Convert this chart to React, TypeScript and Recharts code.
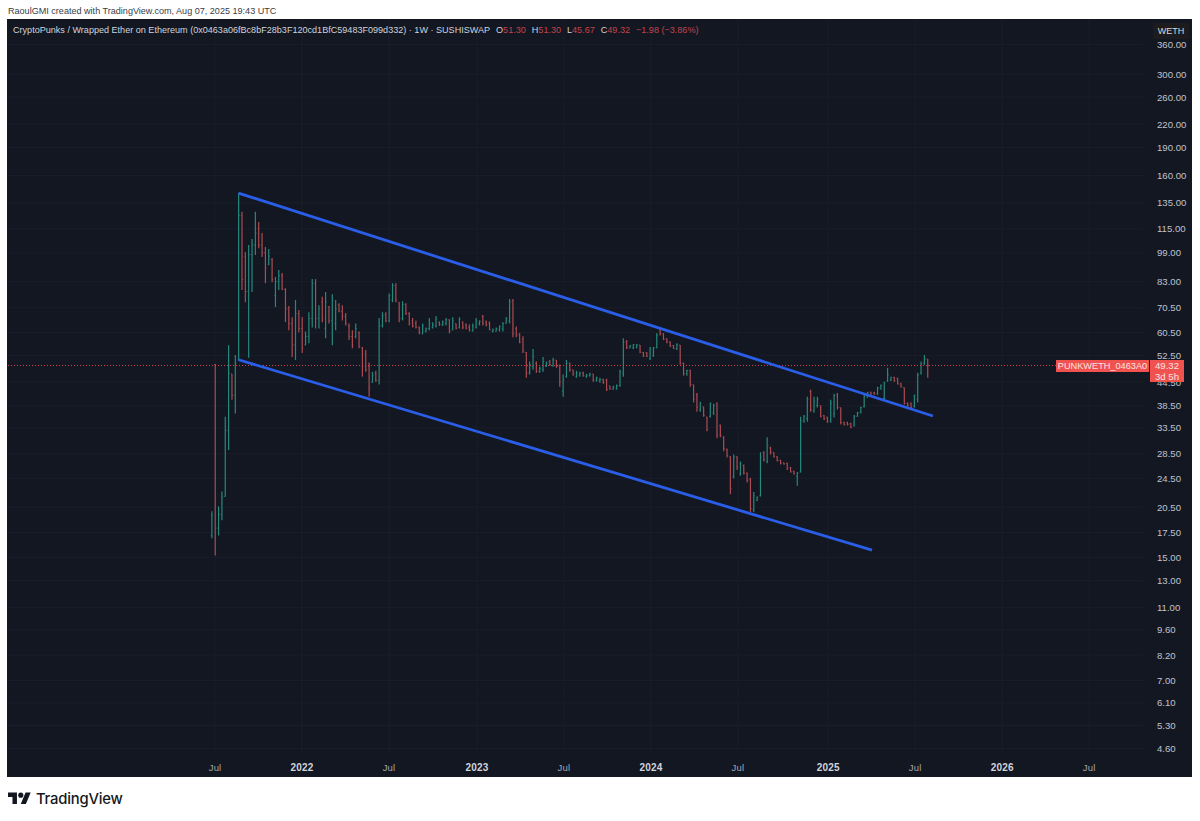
import { Bar, CartesianGrid, ComposedChart, ReferenceLine, XAxis, YAxis } from 'recharts'

const highs = [
  20, 49.8, 20.6, 22.6, 35.9, 55.9, 46.8, 52.6, 143.5, 127.7, 99.6, 104, 107.9, 127.7, 119.9, 112, 102.7, 101.5, 95.9, 85.3,
  89.1, 87.4, 79.6, 71.3, 66.5, 74, 69.5, 66.5, 60.9, 68.6, 84.2, 84.2, 71.6, 75.5, 77.7, 71.3, 76.7, 74, 72.5, 71.6,
  68.2, 64, 61.3, 64, 60.9, 55.3, 54.3, 50.2, 47.4, 47.7, 66.2, 68.6, 68.6, 77, 82.1, 82.1, 73, 73.4, 72.5, 68.6,
  66.2, 65.2, 62.8, 64, 62.4, 66.2, 64.5, 67, 64.8, 65.2, 66.2, 65.6, 66.5, 64, 66.5, 64.8, 64, 63.6, 64, 66.2,
  65.2, 67.4, 65.2, 64.8, 62, 62.4, 63.2, 64.5, 66.5, 74.4, 74.4, 62.8, 60.2, 59.1, 53.6, 50.5, 54.6, 50.5, 48.9, 52,
  50.5, 51, 51.7, 51, 49.5, 46.6, 51, 50.2, 48, 47.7, 47.4, 47.4, 46.8, 47.1, 46.8, 46, 45.7, 45.4, 45.4, 43.5,
  43.5, 43.8, 48, 58.4, 57.7, 56, 56.3, 56.3, 56, 53.6, 53.6, 55.3, 55.3, 60.2, 62, 60.2, 58.4, 57.3, 56, 56.6,
  56, 50.2, 48, 48, 43.8, 41.6, 39.4, 38.2, 35.9, 39.2, 38.9, 39.2, 34.2, 31.8, 29.5, 28.1, 28.4, 28.1, 27.2, 26.7,
  25.4, 24.6, 22.5, 21.9, 28.8, 29, 31.6, 29.8, 28.8, 28.1, 27.5, 27, 27, 26.3, 25.7, 25.5, 35.9, 36.3, 40.6, 42.4,
  40.6, 40.6, 38.5, 36.3, 35.9, 39.9, 41.4, 41.6, 38, 34.8, 34.8, 34.6, 36.3, 37, 38.2, 41.1, 41.9, 41.9, 41.9, 43.2,
  43.8, 44.6, 48.6, 46, 46, 45.7, 44.3, 43, 39.2, 39.2, 41.1, 47.1, 50.5, 52.6, 51.3,
]

const lows = [
  16.9, 15.2, 17.2, 18.9, 21.9, 29.2, 39.9, 36.6, 51, 78.7, 73, 51.7, 77.7, 97.7, 102, 96.5, 82.1, 91.9, 82.6, 70.8,
  78.7, 78.7, 64.5, 61.3, 52, 51, 60.5, 53.3, 55.9, 56.6, 62.4, 62, 62, 64.5, 58.4, 64, 55.9, 61.3, 68.6, 65.2,
  63.2, 57.7, 54.9, 58.4, 54.9, 46, 47.4, 40.6, 44.3, 44.6, 43.8, 62.4, 64.5, 64.5, 73, 73, 64.5, 65.2, 67.4, 63.2,
  62.4, 62, 59.8, 59.8, 60.5, 61.3, 62, 62.4, 63, 63, 63.2, 60.2, 61.3, 61.7, 62, 61.7, 61.7, 60.9, 60.9, 62,
  63.2, 63.2, 62.8, 61.3, 60.5, 60.9, 60.9, 60.9, 64, 64, 58.7, 58.7, 56.6, 53.3, 45.7, 46.6, 48, 47.1, 47.1, 47.4,
  48.9, 49.2, 48.9, 48.6, 43.2, 40.6, 45.7, 47.4, 46.3, 45.7, 46, 46, 45.7, 46, 44.6, 44.6, 44.3, 44, 42.1, 42.4,
  42.4, 42.4, 43.2, 46, 54.6, 54.9, 54.6, 54.9, 53.3, 52, 52, 51, 52, 54.9, 59.4, 57.7, 56.6, 55.3, 54.6, 54.3,
  49.5, 46.3, 46.3, 43.2, 39.2, 37, 37, 35.9, 32.8, 35.7, 36.3, 31.4, 31.6, 29, 27.9, 22.2, 24.5, 25.8, 24.9, 25.1,
  23.9, 19.9, 19.9, 21.3, 21.9, 27.2, 26.9, 28.4, 27.9, 27.2, 26.7, 26.7, 25.8, 25.4, 25.1, 23.4, 25.4, 34.6, 34.8, 37,
  36.8, 38, 35.7, 35.2, 34.6, 34.6, 35.7, 37.5, 34.2, 34, 34, 33.4, 33.8, 35.9, 36.6, 38, 40.4, 41.1, 41.1, 41.1,
  42.4, 39.9, 44.6, 44.8, 44.6, 43.8, 43, 38.7, 38.2, 37.8, 38, 39.2, 46.6, 49.5, 45.67,
]

const opens = [
  17.2, 49.6, 18, 19.6, 21.9, 33, 46.8, 41, 51, 125, 97, 78, 98, 104, 115, 104, 99, 92, 95, 76,
  83, 86, 79, 70, 64, 56, 68, 62, 56, 59, 66, 82, 66, 73, 62, 71, 65, 64, 72, 69,
  67, 63, 59, 59, 60.5, 55, 53, 49, 44.5, 47, 45, 63, 67.5, 65, 74, 81, 73, 66, 72, 68,
  65, 64, 62.5, 60, 61, 62, 62.5, 63, 64.5, 63.5, 64, 65.5, 61.5, 64, 62.5, 64.5, 63.5, 62.5, 61, 62.5,
  63.8, 67, 64.5, 64, 60.8, 61, 61.5, 62, 64, 65, 73.5, 62, 60, 58, 53.5, 47, 49, 50, 47.5, 48,
  49, 50.5, 49.2, 51, 49.4, 42, 46, 50, 48, 46, 46.3, 47, 46, 46.3, 46.8, 45, 44.8, 45.2, 45, 43.5,
  42.6, 42.8, 43.5, 47, 57, 55, 55, 55.2, 56, 53.5, 53.3, 51.5, 52.5, 55, 61.5, 60, 58.2, 57, 55.8, 54.6,
  56, 50, 46.8, 47.8, 43.8, 41, 37.5, 38.2, 35.8, 36, 36.8, 39, 34, 31.6, 29.3, 28, 24.8, 28, 25.2, 26.5,
  25.3, 24.3, 20.2, 21.4, 22, 28.8, 27.2, 29.6, 28.8, 28, 27.4, 27, 26.9, 26.2, 25.6, 24.8, 25.5, 35, 35.5, 42,
  37.2, 38.5, 38.5, 36.2, 35.8, 35, 36.5, 41, 38, 34.7, 34.6, 34.4, 34, 36, 36.8, 38.2, 40.6, 41.8, 41.7, 41.4,
  42.8, 40.2, 44.8, 45, 45.8, 45.5, 44, 43, 39, 39, 38.2, 40, 47, 50, 51.3,
]

const closes = [
  19.5, 18, 19.6, 21.8, 33, 47, 41, 50, 125, 84, 78, 98, 104, 112, 104, 99, 90, 97, 84, 83,
  86, 79, 70, 64, 56, 68, 62, 55, 59, 66, 82, 66, 70, 66, 73, 65, 74, 70, 69, 67,
  64, 59, 56, 62, 55.5, 49, 48, 43, 46.5, 45, 63, 67, 65, 76, 81, 74, 66, 72, 68, 64,
  63, 62.5, 60.5, 63, 62, 64, 63.5, 65.5, 63.5, 64.5, 65.5, 61, 65, 62, 65.5, 62.5, 62, 61.5, 63, 65,
  64.8, 64, 63.5, 61.5, 61.5, 62, 62.8, 64, 66, 73, 60, 59.5, 57, 54, 47, 49.5, 52, 47.5, 48.5, 50.5,
  50, 49.5, 51, 49, 44.5, 45, 50, 48, 46.8, 47, 47, 46.3, 46.5, 46.8, 45, 45.7, 45.2, 44.3, 42.5, 42.6,
  43.3, 43.5, 47.5, 57, 55, 55.8, 56, 56, 53.5, 52.3, 52.2, 54.5, 55, 59.5, 60, 58, 57, 55.6, 54.8, 56,
  50, 47, 47.8, 43.8, 40, 38, 39, 36.2, 33.2, 39, 38.5, 32, 32, 29.5, 28.2, 23, 28, 26.3, 26.8, 25.3,
  24.2, 20.3, 22, 21.8, 28, 27.5, 30, 28.8, 28, 27.4, 26.9, 26.8, 26, 25.5, 25.2, 25.3, 35, 36, 40, 37.5,
  39.5, 40, 36, 35.4, 34.8, 39, 41, 38, 34.6, 34.2, 34.2, 33.6, 36, 36.8, 38, 40.8, 41.6, 41.3, 41.3, 43,
  43.6, 44.3, 46.5, 45.8, 44.8, 44, 43.2, 39, 38.5, 38, 41, 46.5, 50, 51.3, 49.32,
]

const priceTicks = [
  360, 300, 260, 220, 190, 160, 135, 115, 99, 83, 70.5, 60.5, 52.5, 44.5, 38.5, 33.5, 28.5, 24.5, 20.5, 17.5, 15, 13, 11,
  9.6, 8.2, 7, 6.1, 5.3, 4.6,
]
const timeTicks = [0.9, 26.9, 52.9, 79.2, 105.2, 131.2, 157.2, 184.2, 210.2, 236.2, 262.2]
const timeLabels = ['Jul', '2022', 'Jul', '2023', 'Jul', '2024', 'Jul', '2025', 'Jul', '2026', 'Jul']

const lastClose = 49.32
const upperChannel = [{ x: 7.9, y: 143.5 }, { x: 215.5, y: 36.05 }]
const lowerChannel = [{ x: 7.9, y: 51.1 }, { x: 197.3, y: 15.7 }]

const chartData = highs.map((high, i) => ({
  week: i,
  high,
  low: lows[i],
  open: opens[i],
  close: closes[i],
}))

const FONT = '"Liberation Sans", Arial, sans-serif'
const TEAL = '#27897c'
const RED = '#ad4c52'
const BG = '#131722'

function OhlcBar(props: any) {
  const { x, y, width, height, payload } = props
  const { high, low, open, close } = payload
  const cx = x + width / 2
  const range = Math.log(high) - Math.log(low)
  const yAt = (v: number) => y + (height * (Math.log(high) - Math.log(v))) / range
  const color = close >= open ? TEAL : RED
  return (
    <g stroke={color} strokeWidth={1.2}>
      <line x1={cx} x2={cx} y1={y} y2={y + height} />
      <line x1={cx - 1.2} x2={cx} y1={yAt(open)} y2={yAt(open)} strokeWidth={0.7} />
      <line x1={cx} x2={cx + 1.2} y1={yAt(close)} y2={yAt(close)} strokeWidth={0.7} />
    </g>
  )
}

function PriceTick({ x, y, payload }: any) {
  return (
    <text x={x} y={y} dy={3.5} fill="#c0c3cb" fontSize={9.6} fontFamily={FONT}>
      {payload.value.toFixed(2)}
    </text>
  )
}

function TimeTick({ x, y, payload }: any) {
  const label = timeLabels[timeTicks.indexOf(payload.value)]
  const isYear = label !== 'Jul'
  return (
    <text
      x={x}
      y={y}
      dy={10}
      textAnchor="middle"
      fill={isYear ? '#d1d4dc' : '#a3a6af'}
      fontSize={isYear ? 10 : 9.5}
      fontWeight={isYear ? 700 : 400}
      fontFamily={FONT}
      letterSpacing={0.2}
    >
      {label}
    </text>
  )
}

function Legend() {
  const num = { color: '#c2434c' }
  return (
    <div style={{ position: 'absolute', left: 13, top: 24, fontSize: 9.07, lineHeight: '12px', color: '#d1d4dc', fontFamily: FONT, whiteSpace: 'nowrap' }}>
      CryptoPunks / Wrapped Ether on Ethereum (0x0463a06fBc8bF28b3F120cd1BfC59483F099d332) · 1W · SUSHISWAP
      <span style={{ marginLeft: 6 }}>O</span><span style={num}>51.30</span>
      <span style={{ marginLeft: 6 }}>H</span><span style={num}>51.30</span>
      <span style={{ marginLeft: 6 }}>L</span><span style={num}>45.67</span>
      <span style={{ marginLeft: 6 }}>C</span><span style={num}>49.32</span>
      <span style={{ ...num, marginLeft: 6 }}>−1.98 (−3.86%)</span>
    </div>
  )
}

function PriceLabels() {
  const box = { position: 'absolute', background: '#f0524f', color: '#fbe3e2', fontSize: 9.6, fontFamily: FONT, textAlign: 'center' } as const
  return (
    <>
      <div style={{ ...box, left: 1056, top: 360, width: 93, height: 12, lineHeight: '12px', fontSize: 9.2 }}>PUNKWETH_0463A0</div>
      <div style={{ ...box, left: 1150, top: 360, width: 34, height: 22, lineHeight: '11px' }}>
        {lastClose.toFixed(2)}
        <br />
        3d 5h
      </div>
    </>
  )
}

function Logo() {
  return (
    <div style={{ position: 'absolute', left: 8, top: 790, display: 'flex', alignItems: 'center', gap: 5 }}>
      <svg width={23} height={18} viewBox="0 0 36 28" fill="#131722">
        <path d="M14 22H7V11H0V4h14v18zM28 22h-8l7.5-18h8L28 22z" />
        <circle cx={20} cy={8} r={4} />
      </svg>
      <span style={{ fontFamily: '"Inter", sans-serif', fontSize: 14.8, fontWeight: 500, color: '#131722', letterSpacing: -0.2 }}>TradingView</span>
    </div>
  )
}

export default function App() {
  return (
    <div style={{ position: 'absolute', left: 0, top: 0, width: 1200, height: 821, background: '#fff', overflow: 'hidden' }}>
      <div style={{ position: 'absolute', left: 8, top: 5, fontSize: 9.07, lineHeight: '12px', color: '#3a3d45', fontFamily: FONT }}>
        RaoulGMI created with TradingView.com, Aug 07, 2025 19:43 UTC
      </div>
      <div style={{ position: 'absolute', left: 7, top: 19, width: 1185, height: 758, background: BG }} />
      <div style={{ position: 'absolute', left: 0, top: 0 }}>
        <ComposedChart width={1200} height={821} data={chartData} margin={{ top: 19, right: 8, bottom: 44, left: 7 }}>
          <CartesianGrid stroke="#191e2a" strokeWidth={1} horizontalValues={priceTicks} verticalValues={timeTicks} />
          <XAxis
            dataKey="week"
            type="number"
            domain={[-61.3, 278.3]}
            ticks={timeTicks}
            interval={0}
            height={24}
            tick={TimeTick}
            tickLine={false}
            axisLine={false}
            allowDataOverflow
          />
          <YAxis
            orientation="right"
            scale="log"
            type="number"
            domain={[4.47, 421.8]}
            ticks={priceTicks}
            interval={0}
            width={49}
            tick={PriceTick}
            tickLine={false}
            axisLine={false}
            tickMargin={8}
            allowDataOverflow
          />
          <ReferenceLine y={lastClose} stroke="#d8454e" strokeDasharray="1 2" strokeWidth={1} />
          <Bar dataKey={(d: any) => [d.low, d.high]} barSize={3} shape={OhlcBar} isAnimationActive={false} />
          <ReferenceLine segment={upperChannel} stroke="#2a5ee8" strokeWidth={2.8} />
          <ReferenceLine segment={lowerChannel} stroke="#2a5ee8" strokeWidth={2.8} />
        </ComposedChart>
      </div>
      <Legend />
      <PriceLabels />
      <div style={{ position: 'absolute', left: 1153, top: 23, width: 36, height: 16, lineHeight: '16px', background: '#1c1c1e', borderRadius: 2, color: '#d8d8d8', fontSize: 9, fontFamily: FONT, textAlign: 'center' }}>
        WETH
      </div>
      <Logo />
    </div>
  )
}
